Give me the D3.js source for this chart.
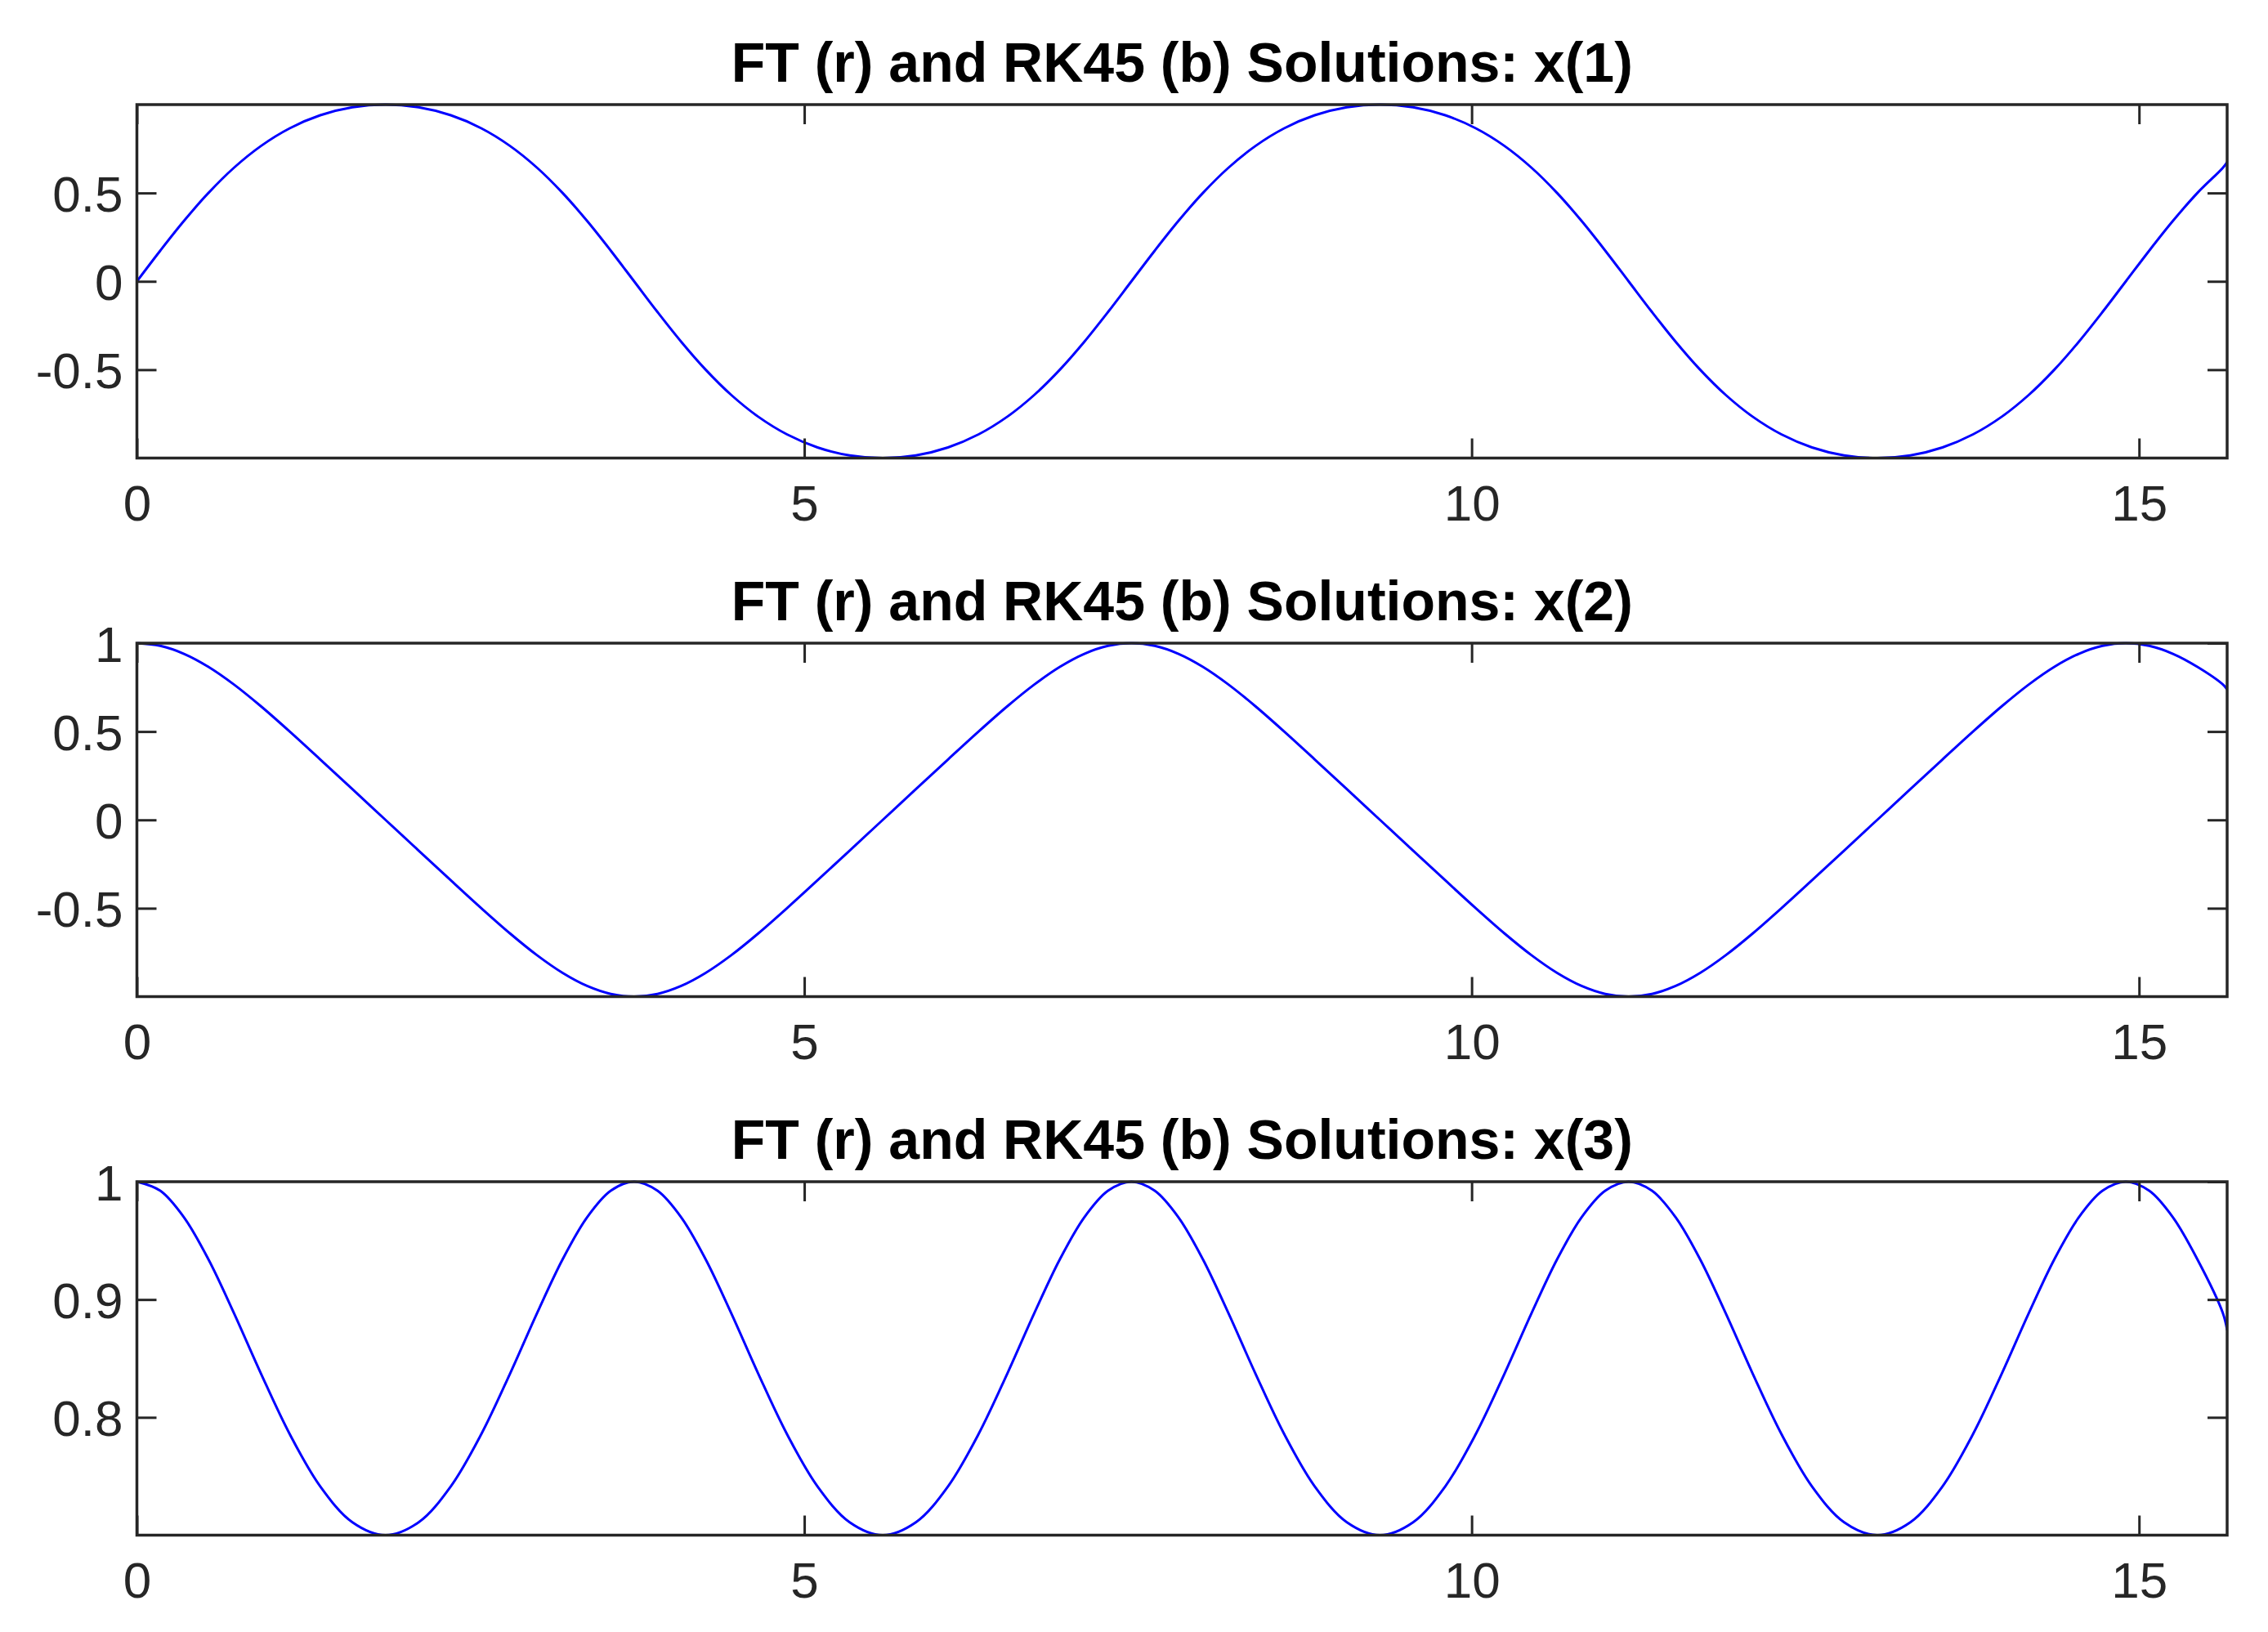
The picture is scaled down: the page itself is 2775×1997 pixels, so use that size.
<!DOCTYPE html>
<html>
<head>
<meta charset="utf-8">
<script src="https://cdn.jsdelivr.net/npm/d3@7"></script>
<style>
  html, body { margin: 0; padding: 0; background: #ffffff; }
  svg { display: block; }
</style>
</head>
<body>
<script>
// ---- data ----
const tValues = [
  0, 0.1750, 0.3527, 0.5359, 0.7273, 0.9296, 1.1448, 1.3737, 1.6146, 1.8626,
  2.1107, 2.3516, 2.5805, 2.7957, 2.9980, 3.1894, 3.3726, 3.5503, 3.7253,
  3.9003, 4.0780, 4.2612, 4.4526, 4.6549, 4.8701, 5.0990, 5.3399, 5.5879,
  5.8360, 6.0769, 6.3058, 6.5210, 6.7233, 6.9147, 7.0979, 7.2756, 7.4506,
  7.6256, 7.8033, 7.9865, 8.1779, 8.3802, 8.5954, 8.8243, 9.0652, 9.3132,
  9.5613, 9.8022, 10.0311, 10.2463, 10.4486, 10.6400, 10.8232, 11.0009, 11.1759,
  11.3509, 11.5286, 11.7118, 11.9032, 12.1055, 12.3207, 12.5496, 12.7905, 13.0385,
  13.2866, 13.5275, 13.7564, 13.9716, 14.1739, 14.3653, 14.5485, 14.7262, 14.9012,
  15.0762, 15.2539, 15.4371, 15.6285, 15.66
];
const x1Values = [
  0, 0.1736, 0.3420, 0.5, 0.6428, 0.7660, 0.8660, 0.9397, 0.9848, 1,
  0.9848, 0.9397, 0.8660, 0.7660, 0.6428, 0.5, 0.3420, 0.1736, 0,
  -0.1736, -0.3420, -0.5, -0.6428, -0.7660, -0.8660, -0.9397, -0.9848, -1,
  -0.9848, -0.9397, -0.8660, -0.7660, -0.6428, -0.5, -0.3420, -0.1736, 0,
  0.1736, 0.3420, 0.5, 0.6428, 0.7660, 0.8660, 0.9397, 0.9848, 1,
  0.9848, 0.9397, 0.8660, 0.7660, 0.6428, 0.5, 0.3420, 0.1736, 0,
  -0.1736, -0.3420, -0.5, -0.6428, -0.7660, -0.8660, -0.9397, -0.9848, -1,
  -0.9848, -0.9397, -0.8660, -0.7660, -0.6428, -0.5, -0.3420, -0.1736, 0,
  0.1736, 0.3420, 0.5, 0.6428, 0.675
];
const x2Values = [
  1, 0.9848, 0.9397, 0.8660, 0.7660, 0.6428, 0.5, 0.3420, 0.1736, 0,
  -0.1736, -0.3420, -0.5, -0.6428, -0.7660, -0.8660, -0.9397, -0.9848, -1,
  -0.9848, -0.9397, -0.8660, -0.7660, -0.6428, -0.5, -0.3420, -0.1736, 0,
  0.1736, 0.3420, 0.5, 0.6428, 0.7660, 0.8660, 0.9397, 0.9848, 1,
  0.9848, 0.9397, 0.8660, 0.7660, 0.6428, 0.5, 0.3420, 0.1736, 0,
  -0.1736, -0.3420, -0.5, -0.6428, -0.7660, -0.8660, -0.9397, -0.9848, -1,
  -0.9848, -0.9397, -0.8660, -0.7660, -0.6428, -0.5, -0.3420, -0.1736, 0,
  0.1736, 0.3420, 0.5, 0.6428, 0.7660, 0.8660, 0.9397, 0.9848, 1,
  0.9848, 0.9397, 0.8660, 0.7660, 0.738
];
const x3Values = [
  1, 0.9923, 0.9697, 0.9341, 0.8884, 0.8371, 0.7858, 0.7414, 0.7109, 0.7,
  0.7109, 0.7414, 0.7858, 0.8371, 0.8884, 0.9341, 0.9697, 0.9923, 1,
  0.9923, 0.9697, 0.9341, 0.8884, 0.8371, 0.7858, 0.7414, 0.7109, 0.7,
  0.7109, 0.7414, 0.7858, 0.8371, 0.8884, 0.9341, 0.9697, 0.9923, 1,
  0.9923, 0.9697, 0.9341, 0.8884, 0.8371, 0.7858, 0.7414, 0.7109, 0.7,
  0.7109, 0.7414, 0.7858, 0.8371, 0.8884, 0.9341, 0.9697, 0.9923, 1,
  0.9923, 0.9697, 0.9341, 0.8884, 0.8371, 0.7858, 0.7414, 0.7109, 0.7,
  0.7109, 0.7414, 0.7858, 0.8371, 0.8884, 0.9341, 0.9697, 0.9923, 1,
  0.9923, 0.9697, 0.9341, 0.8884, 0.874
];
const titles = [
  "FT (r) and RK45 (b) Solutions: x(1)",
  "FT (r) and RK45 (b) Solutions: x(2)",
  "FT (r) and RK45 (b) Solutions: x(3)"
];
const xTicks = [0, 5, 10, 15];
const yTicks1 = [-0.5, 0, 0.5];
const yTicks2 = [-0.5, 0, 0.5, 1];
const yTicks3 = [0.8, 0.9, 1];
const xDomain = [0, 15.66];
const yDomain1 = [-1, 1];
const yDomain2 = [-1, 1];
const yDomain3 = [0.7, 1];

// ---- layout ----
const W = 2775, H = 1997;
const left = 167.5, right = 2725;
const panelTops = [128, 787, 1446];
const panelH = 432.5;
const axisColor = "#262626";
const fontFamily = "'Liberation Sans', Arial, Helvetica, sans-serif";

const panels = [
  { title: titles[0], values: x1Values, yTicks: yTicks1, yDomain: yDomain1 },
  { title: titles[1], values: x2Values, yTicks: yTicks2, yDomain: yDomain2 },
  { title: titles[2], values: x3Values, yTicks: yTicks3, yDomain: yDomain3 }
];

const svg = d3.select("body").append("svg")
  .attr("width", W).attr("height", H)
  .attr("viewBox", `0 0 ${W} ${H}`);

svg.append("rect").attr("width", W).attr("height", H).attr("fill", "#ffffff");

const x = d3.scaleLinear().domain(xDomain).range([left, right]);
const fmt = d => String(d);

panels.forEach((p, i) => {
  const top = panelTops[i], bottom = top + panelH;
  const y = d3.scaleLinear().domain(p.yDomain).range([bottom, top]);
  const g = svg.append("g");

  const clipId = "clip" + i;
  svg.append("clipPath").attr("id", clipId)
    .append("rect").attr("x", left).attr("y", top - 2)
    .attr("width", right - left).attr("height", panelH + 4);

  const data = tValues.map((t, k) => [t, p.values[k]]);
  const line = d3.line()
    .x(d => x(d[0])).y(d => y(d[1]))
    .curve(d3.curveCatmullRom.alpha(0.5));

  g.append("path")
    .datum(data)
    .attr("clip-path", `url(#${clipId})`)
    .attr("fill", "none")
    .attr("stroke", "#0000ff")
    .attr("stroke-width", 3)
    .attr("stroke-linejoin", "round")
    .attr("d", line);

  // axes with inward ticks
  const tick = 24;
  const xb = g.append("g").attr("transform", `translate(0,${bottom})`)
    .call(d3.axisBottom(x).tickValues(xTicks).tickFormat(fmt)
      .tickSizeInner(-tick).tickSizeOuter(0).tickPadding(32));
  const xt = g.append("g").attr("transform", `translate(0,${top})`)
    .call(d3.axisTop(x).tickValues(xTicks).tickFormat("")
      .tickSizeInner(-tick).tickSizeOuter(0));
  const yl = g.append("g").attr("transform", `translate(${left},0)`)
    .call(d3.axisLeft(y).tickValues(p.yTicks).tickFormat(fmt)
      .tickSizeInner(-tick).tickSizeOuter(0).tickPadding(17));
  const yr = g.append("g").attr("transform", `translate(${right},0)`)
    .call(d3.axisRight(y).tickValues(p.yTicks).tickFormat("")
      .tickSizeInner(-tick).tickSizeOuter(0));

  [xb, xt, yl, yr].forEach(a => {
    a.select(".domain").remove();
    a.selectAll(".tick line").attr("stroke", axisColor).attr("stroke-width", 3);
    a.selectAll(".tick text")
      .attr("fill", axisColor)
      .attr("font-family", fontFamily)
      .attr("font-size", 62);
  });
  yl.selectAll(".tick text").attr("dy", "0.355em");
  xb.selectAll(".tick text").attr("dy", "0.71em");

  g.append("rect")
    .attr("x", left).attr("y", top)
    .attr("width", right - left).attr("height", panelH)
    .attr("fill", "none")
    .attr("stroke", axisColor)
    .attr("stroke-width", 3.5);

  g.append("text")
    .attr("x", (left + right) / 2)
    .attr("y", top - 28)
    .attr("text-anchor", "middle")
    .attr("font-family", fontFamily)
    .attr("font-weight", "bold")
    .attr("font-size", 68)
    .attr("fill", "#000000")
    .text(p.title);
});
</script>
</body>
</html>
